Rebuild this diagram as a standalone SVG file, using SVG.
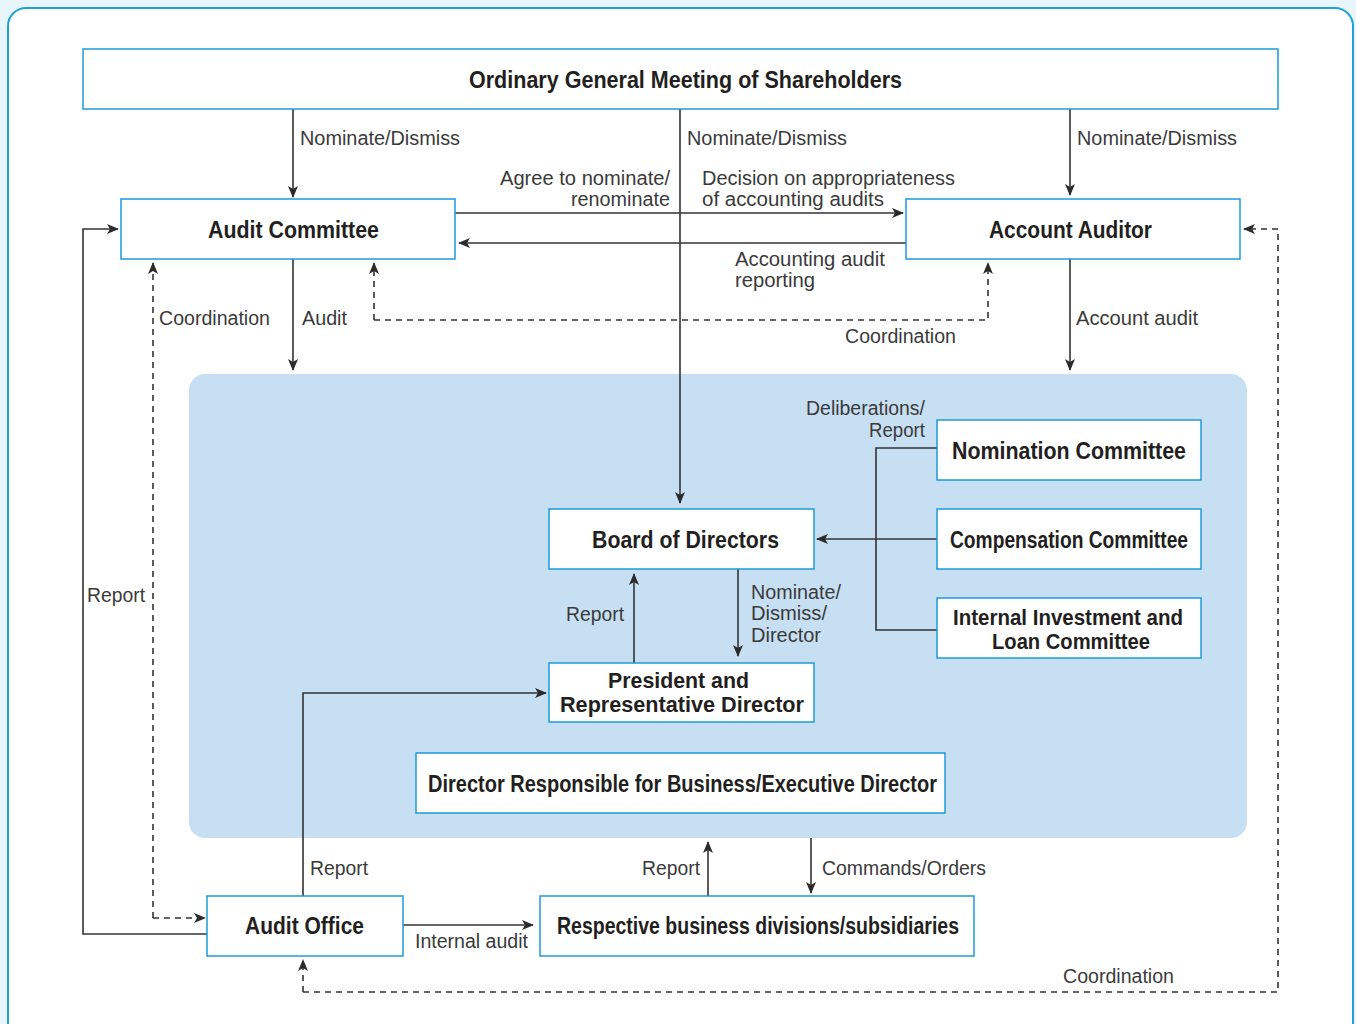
<svg xmlns="http://www.w3.org/2000/svg" width="1356" height="1024" viewBox="0 0 1356 1024">
<defs>
<marker id="ah" viewBox="0 0 12 10" refX="11" refY="5" markerWidth="12" markerHeight="10" markerUnits="userSpaceOnUse" orient="auto">
<path d="M0,0 L12,5 L0,10 L3,5 z" fill="#2b2b2b"/>
</marker>
<style>
.node{fill:#fff;stroke:#1e9bd7;stroke-width:1.5}
.t{font-family:"Liberation Sans",Arial,sans-serif;font-weight:bold;font-size:23px;fill:#231f20}
.t2{font-family:"Liberation Sans",Arial,sans-serif;font-weight:bold;font-size:22px;fill:#231f20}
.l{font-family:"Liberation Sans",Arial,sans-serif;font-size:20px;fill:#3a3a3a}
.c{fill:none;stroke:#333;stroke-width:1.6}
.d{fill:none;stroke:#333;stroke-width:1.6;stroke-dasharray:6 5}
</style>
</defs>
<rect x="0" y="0" width="1356" height="1024" fill="#e8f5fb"/>
<rect x="8" y="8" width="1345" height="1034" rx="18" fill="#fff" stroke="#1ea0dc" stroke-width="2"/>
<rect id="panel" x="189" y="374" width="1058" height="464" rx="16" fill="#c7dff2"/>

<g id="connectors">
<path class="c" d="M293,109 V197" marker-end="url(#ah)"/>
<path class="c" d="M680,109 V503" marker-end="url(#ah)"/>
<path class="c" d="M1070,109 V195" marker-end="url(#ah)"/>
<path class="c" d="M455,213 H903" marker-end="url(#ah)"/>
<path class="c" d="M906,243 H459" marker-end="url(#ah)"/>
<path class="c" d="M293,259 V370" marker-end="url(#ah)"/>
<path class="c" d="M1070,259 V370" marker-end="url(#ah)"/>
<path class="d" d="M374,320 V263" marker-end="url(#ah)"/>
<path class="d" d="M374,320 H988 V263" marker-end="url(#ah)"/>
<path class="d" d="M153,918 V263" marker-end="url(#ah)"/>
<path class="d" d="M153,918 H205" marker-end="url(#ah)"/>
<path class="c" d="M207,934 H83 V229 H118" marker-end="url(#ah)"/>
<path class="d" d="M303,992 V960" marker-end="url(#ah)"/>
<path class="d" d="M303,992 H1278 V229 H1244" marker-end="url(#ah)"/>
<path class="c" d="M303,896 V693 H546" marker-end="url(#ah)"/>
<path class="c" d="M403,925 H533" marker-end="url(#ah)"/>
<path class="c" d="M708,896 V842" marker-end="url(#ah)"/>
<path class="c" d="M811,838 V893" marker-end="url(#ah)"/>
<path class="c" d="M937,448 H876 V630 H937"/>
<path class="c" d="M937,539 H817" marker-end="url(#ah)"/>
<path class="c" d="M738,569 V656" marker-end="url(#ah)"/>
<path class="c" d="M634,663 V574" marker-end="url(#ah)"/>

<text class="l" x="300" y="145" textLength="160" lengthAdjust="spacingAndGlyphs">Nominate/Dismiss</text>
<text class="l" x="687" y="145" textLength="160" lengthAdjust="spacingAndGlyphs">Nominate/Dismiss</text>
<text class="l" x="1077" y="145" textLength="160" lengthAdjust="spacingAndGlyphs">Nominate/Dismiss</text>
<text class="l" x="500" y="185" textLength="170" lengthAdjust="spacingAndGlyphs">Agree to nominate/</text>
<text class="l" x="571" y="206" textLength="99" lengthAdjust="spacingAndGlyphs">renominate</text>
<text class="l" x="702" y="185" textLength="253" lengthAdjust="spacingAndGlyphs">Decision on appropriateness</text>
<text class="l" x="702" y="206" textLength="182" lengthAdjust="spacingAndGlyphs">of accounting audits</text>
<text class="l" x="735" y="266" textLength="150" lengthAdjust="spacingAndGlyphs">Accounting audit</text>
<text class="l" x="735" y="287" textLength="80" lengthAdjust="spacingAndGlyphs">reporting</text>
<text class="l" x="159" y="325" textLength="111" lengthAdjust="spacingAndGlyphs">Coordination</text>
<text class="l" x="302" y="325" textLength="45" lengthAdjust="spacingAndGlyphs">Audit</text>
<text class="l" x="845" y="343" textLength="111" lengthAdjust="spacingAndGlyphs">Coordination</text>
<text class="l" x="1076" y="325" textLength="122" lengthAdjust="spacingAndGlyphs">Account audit</text>
<text class="l" x="806" y="415" textLength="119" lengthAdjust="spacingAndGlyphs">Deliberations/</text>
<text class="l" x="869" y="437" textLength="56" lengthAdjust="spacingAndGlyphs">Report</text>
<text class="l" x="87" y="602" textLength="58" lengthAdjust="spacingAndGlyphs">Report</text>
<text class="l" x="566" y="621" textLength="58" lengthAdjust="spacingAndGlyphs">Report</text>
<text class="l" x="751" y="599" textLength="90" lengthAdjust="spacingAndGlyphs">Nominate/</text>
<text class="l" x="751" y="620" textLength="76" lengthAdjust="spacingAndGlyphs">Dismiss/</text>
<text class="l" x="751" y="642" textLength="70" lengthAdjust="spacingAndGlyphs">Director</text>
<text class="l" x="310" y="875" textLength="58" lengthAdjust="spacingAndGlyphs">Report</text>
<text class="l" x="642" y="875" textLength="58" lengthAdjust="spacingAndGlyphs">Report</text>
<text class="l" x="822" y="875" textLength="164" lengthAdjust="spacingAndGlyphs">Commands/Orders</text>
<text class="l" x="415" y="948" textLength="113" lengthAdjust="spacingAndGlyphs">Internal audit</text>
<text class="l" x="1063" y="983" textLength="111" lengthAdjust="spacingAndGlyphs">Coordination</text>
</g>

<g id="shareholders">
<rect class="node" x="83" y="49" width="1195" height="60"/>
<text class="t" x="469" y="88" textLength="433" lengthAdjust="spacingAndGlyphs">Ordinary General Meeting of Shareholders</text>
</g>
<g id="audit-committee">
<rect class="node" x="121" y="199" width="334" height="60"/>
<text class="t" x="208" y="238" textLength="171" lengthAdjust="spacingAndGlyphs">Audit Committee</text>
</g>
<g id="account-auditor">
<rect class="node" x="906" y="199" width="334" height="60"/>
<text class="t" x="989" y="238" textLength="163" lengthAdjust="spacingAndGlyphs">Account Auditor</text>
</g>
<g id="nomination-committee">
<rect class="node" x="937" y="420" width="264" height="60"/>
<text class="t" x="952" y="459" textLength="234" lengthAdjust="spacingAndGlyphs">Nomination Committee</text>
</g>
<g id="compensation-committee">
<rect class="node" x="937" y="509" width="264" height="60"/>
<text class="t" x="950" y="548" textLength="238" lengthAdjust="spacingAndGlyphs">Compensation Committee</text>
</g>
<g id="investment-committee">
<rect class="node" x="937" y="598" width="264" height="60"/>
<text class="t2" x="953" y="625" textLength="230" lengthAdjust="spacingAndGlyphs">Internal Investment and</text>
<text class="t2" x="992" y="649" textLength="158" lengthAdjust="spacingAndGlyphs">Loan Committee</text>
</g>
<g id="board">
<rect class="node" x="549" y="509" width="265" height="60"/>
<text class="t" x="592" y="548" textLength="187" lengthAdjust="spacingAndGlyphs">Board of Directors</text>
</g>
<g id="president">
<rect class="node" x="549" y="663" width="265" height="59"/>
<text class="t2" x="608" y="688" textLength="141" lengthAdjust="spacingAndGlyphs">President and</text>
<text class="t2" x="560" y="712" textLength="244" lengthAdjust="spacingAndGlyphs">Representative Director</text>
</g>
<g id="executive-director">
<rect class="node" x="416" y="753" width="529" height="60"/>
<text class="t" x="428" y="792" textLength="509" lengthAdjust="spacingAndGlyphs">Director Responsible for Business/Executive Director</text>
</g>
<g id="audit-office">
<rect class="node" x="207" y="896" width="196" height="60"/>
<text class="t" x="245" y="934" textLength="119" lengthAdjust="spacingAndGlyphs">Audit Office</text>
</g>
<g id="business-divisions">
<rect class="node" x="540" y="896" width="434" height="60"/>
<text class="t" x="557" y="934" textLength="402" lengthAdjust="spacingAndGlyphs">Respective business divisions/subsidiaries</text>
</g>
</svg>
